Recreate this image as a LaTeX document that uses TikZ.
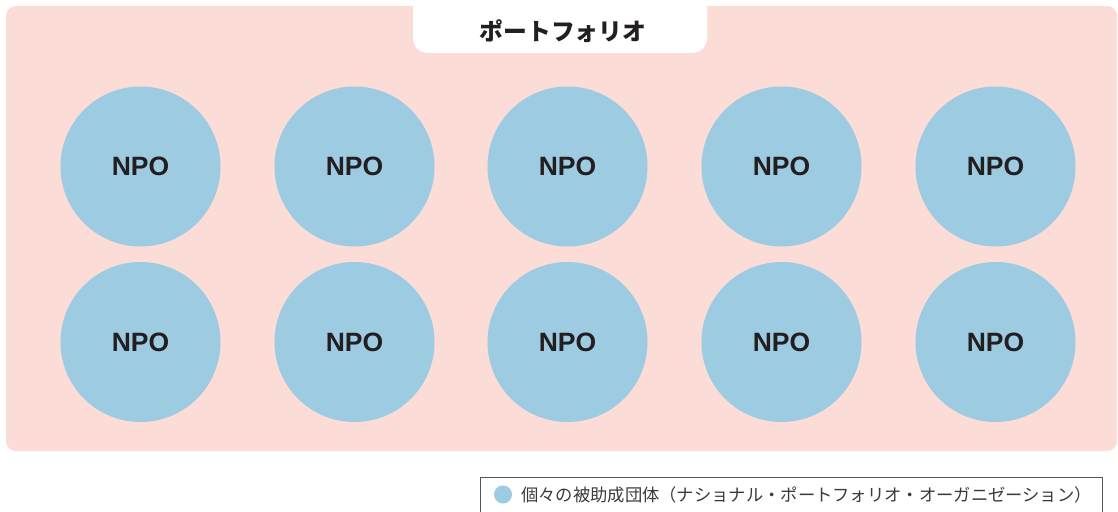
\documentclass[tikz,border=0pt]{standalone}
\usepackage{fontspec}
\setmainfont{Liberation Sans}
\newfontfamily\jpfont{Noto Sans CJK JP}
\definecolor{pinkbg}{HTML}{FBDCD7}
\definecolor{npoblue}{HTML}{9DCBE2}
\definecolor{inkdark}{HTML}{231F20}
\definecolor{legendline}{HTML}{555555}
\definecolor{legendtext}{HTML}{3A3A3A}
\tikzset{
  npo/.style={circle, fill=npoblue, minimum size=160pt, inner sep=0pt,
    text=inkdark, font=\fontsize{26.5}{30}\selectfont\bfseries},
}
\begin{document}
\begin{tikzpicture}[x=1pt,y=-1pt]
\useasboundingbox (0,0) rectangle (1118,511);
% portfolio area
\fill[pinkbg, rounded corners=10pt] (6,6) rectangle (1117,451);
% title tab
\fill[white] (413,-2) {[rounded corners=15pt] -- (413,53) -- (707,53)} -- (707,-2) -- cycle;
\node[text=inkdark, font=\jpfont\fontsize{23.8}{28}\selectfont\bfseries] (title) at (563,31) {ポートフォリオ};
% NPO circles
\node[npo] (a1) at (140.5,166.5) {NPO};
\node[npo] (a2) at (354.5,166.5) {NPO};
\node[npo] (a3) at (567.5,166.5) {NPO};
\node[npo] (a4) at (781.5,166.5) {NPO};
\node[npo] (a5) at (995.5,166.5) {NPO};
\node[npo] (b1) at (140.5,342) {NPO};
\node[npo] (b2) at (354.5,342) {NPO};
\node[npo] (b3) at (567.5,342) {NPO};
\node[npo] (b4) at (781.5,342) {NPO};
\node[npo] (b5) at (995.5,342) {NPO};
% legend
\draw[legendline, line width=0.9pt] (480.5,515) -- (480.5,477.5) -- (1102.5,477.5) -- (1102.5,515);
\node[circle, fill=npoblue, minimum size=18pt, inner sep=0pt] (legdot) at (503,494.5) {};
\node[anchor=west, inner sep=0pt, text=legendtext, font=\jpfont\fontsize{17.3}{20}\selectfont] (legtext) at (521,494.5) {個々の被助成団体（ナショナル・ポートフォリオ・オーガニゼーション）};
\end{tikzpicture}
\end{document}
